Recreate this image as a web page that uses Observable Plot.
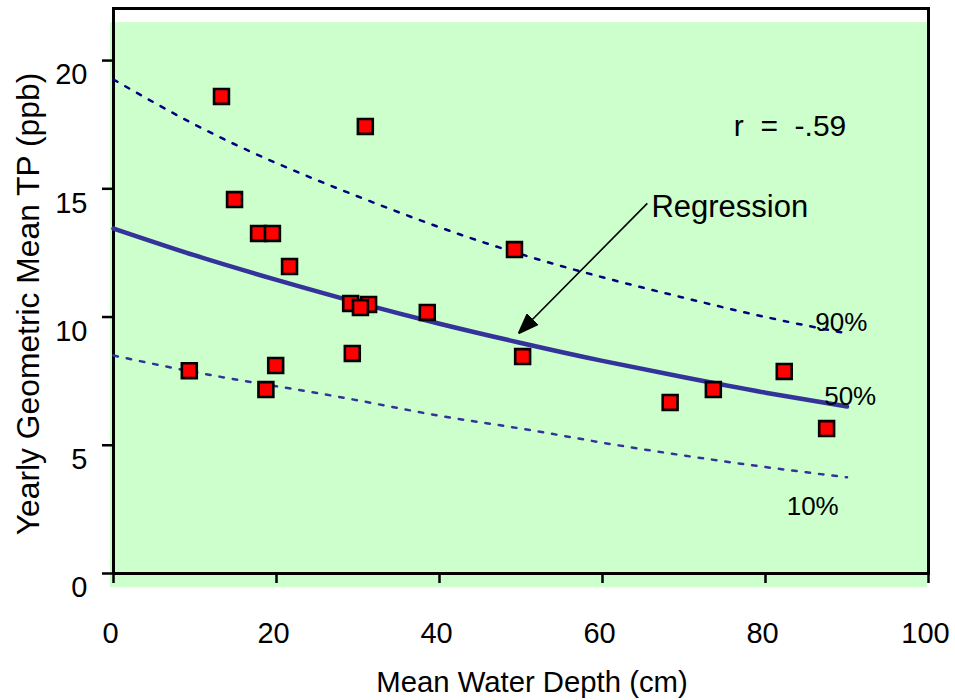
<!DOCTYPE html>
<html>
<head>
<meta charset="utf-8">
<script src="https://cdn.jsdelivr.net/npm/d3@7"></script>
<script src="https://cdn.jsdelivr.net/npm/@observablehq/plot@0.6"></script>
<style>
  html, body { margin: 0; padding: 0; background: #fff; }
  #chart { width: 955px; height: 700px; }
</style>
</head>
<body>
<div id="chart"></div>
<script>
// Observed data points
const depth = [13.25, 30.9, 14.85, 17.8, 19.5, 21.6, 49.2, 29.1, 31.3, 30.3, 38.5, 29.3, 9.3, 19.9, 18.7, 50.2, 68.3, 73.6, 82.3, 87.5];
const tp    = [18.6, 17.43, 14.58, 13.26, 13.26, 11.97, 12.63, 10.53, 10.49, 10.37, 10.18, 8.58, 7.91, 8.11, 7.17, 8.46, 6.67, 7.17, 7.88, 5.65];

// Regression curve and percentile bands
const curveDepth = [0, 10, 20, 30, 40, 50, 60, 70, 80, 90];
const p50 = [13.45, 12.4, 11.45, 10.56, 9.74, 8.99, 8.29, 7.65, 7.05, 6.51];
const p90 = [19.26, 17.5, 16.0, 14.7, 13.5, 12.45, 11.55, 10.75, 10.0, 9.36];
const p10 = [8.5, 7.85, 7.3, 6.75, 6.15, 5.65, 5.1, 4.6, 4.15, 3.75];

// Axis ticks
const xTicks = [0, 20, 40, 60, 80, 100];
const yTicks = [0, 5, 10, 15, 20];

const points = depth.map((d, i) => ({depth: d, tp: tp[i]}));
const curve = (vals) => curveDepth.map((d, i) => ({depth: d, v: vals[i]}));

const font = "Liberation Sans, Arial, Helvetica, sans-serif";

function filledArrow(color, context) {
  const m = d3.create("svg:marker")
    .attr("viewBox", "-20 -8 20 16")
    .attr("markerWidth", 20)
    .attr("markerHeight", 16)
    .attr("markerUnits", "userSpaceOnUse")
    .attr("refX", 0)
    .attr("refY", 0)
    .attr("orient", "auto");
  m.append("path").attr("d", "M-20,-7.5L0,0L-20,7.5Z").attr("fill", "black");
  return m.node();
}

const chart = Plot.plot({
  width: 955,
  height: 700,
  marginLeft: 113,
  marginRight: 27,
  marginTop: 8,
  marginBottom: 127,
  style: {fontFamily: font, background: "white", color: "black", overflow: "visible"},
  x: {domain: [0, 100]},
  y: {domain: [0, 22.03]},
  marks: [
    Plot.rect([0], {x1: -0.37, x2: 99.85, y1: -0.55, y2: 21.48, fill: "#ccffcc"}),
    Plot.frame({stroke: "black", strokeWidth: 3}),
    Plot.line(curve(p90), {x: "depth", y: "v", stroke: "#000080", strokeWidth: 2.5, strokeDasharray: "4.5,9", curve: "natural"}),
    Plot.line(curve(p10), {x: "depth", y: "v", stroke: "#333399", strokeWidth: 2.5, strokeDasharray: "4.5,9", curve: "natural"}),
    Plot.line(curve(p50), {x: "depth", y: "v", stroke: "#333399", strokeWidth: 4.5, curve: "natural"}),
    Plot.dot(points, {x: "depth", y: "tp", symbol: "square", r: 8.4, fill: "#ff0000", stroke: "black", strokeWidth: 2.6}),
    Plot.link([0], {x1: 65.5, y1: 14.43, x2: 49.7, y2: 9.36, stroke: "black", strokeWidth: 1.6, markerEnd: filledArrow}),
    Plot.text(["Regression"], {x: 66, y: 14.3, textAnchor: "start", fontSize: 31}),
    Plot.text(["r \u00a0=\u00a0 -.59"], {x: 76.1, y: 17.43, textAnchor: "start", fontSize: 30}),
    Plot.text(["90%"], {x: 86.1, y: 9.79, textAnchor: "start", fontSize: 26}),
    Plot.text(["50%"], {x: 87.2, y: 6.9, textAnchor: "start", fontSize: 26}),
    Plot.text(["10%"], {x: 82.6, y: 2.61, textAnchor: "start", fontSize: 26}),
    // tick marks
    Plot.axisX({ticks: xTicks, tickSize: 10, strokeWidth: 2.5, label: null, tickFormat: () => ""}),
    Plot.axisY({ticks: yTicks, tickSize: 11, strokeWidth: 2.5, label: null, tickFormat: () => ""}),
    // tick labels (offset like the original)
    Plot.axisX({ticks: xTicks, tickSize: 0, tickPadding: 49, dx: -3, fontSize: 29, label: null, tickFormat: d => String(d)}),
    Plot.axisY({ticks: yTicks, tickSize: 0, tickPadding: 26, dy: 14.5, fontSize: 29, label: null, tickFormat: d => String(d)}),
    Plot.text(["Mean Water Depth (cm)"], {frameAnchor: "bottom", textAnchor: "middle", lineAnchor: "middle", dx: 11, dy: 109, fontSize: 29.3}),
    Plot.text(["Yearly Geometric Mean TP (ppb)"], {frameAnchor: "left", textAnchor: "middle", lineAnchor: "middle", dx: -85, dy: 13, rotate: -90, fontSize: 31.8})
  ]
});

document.getElementById("chart").appendChild(chart);
</script>
</body>
</html>
